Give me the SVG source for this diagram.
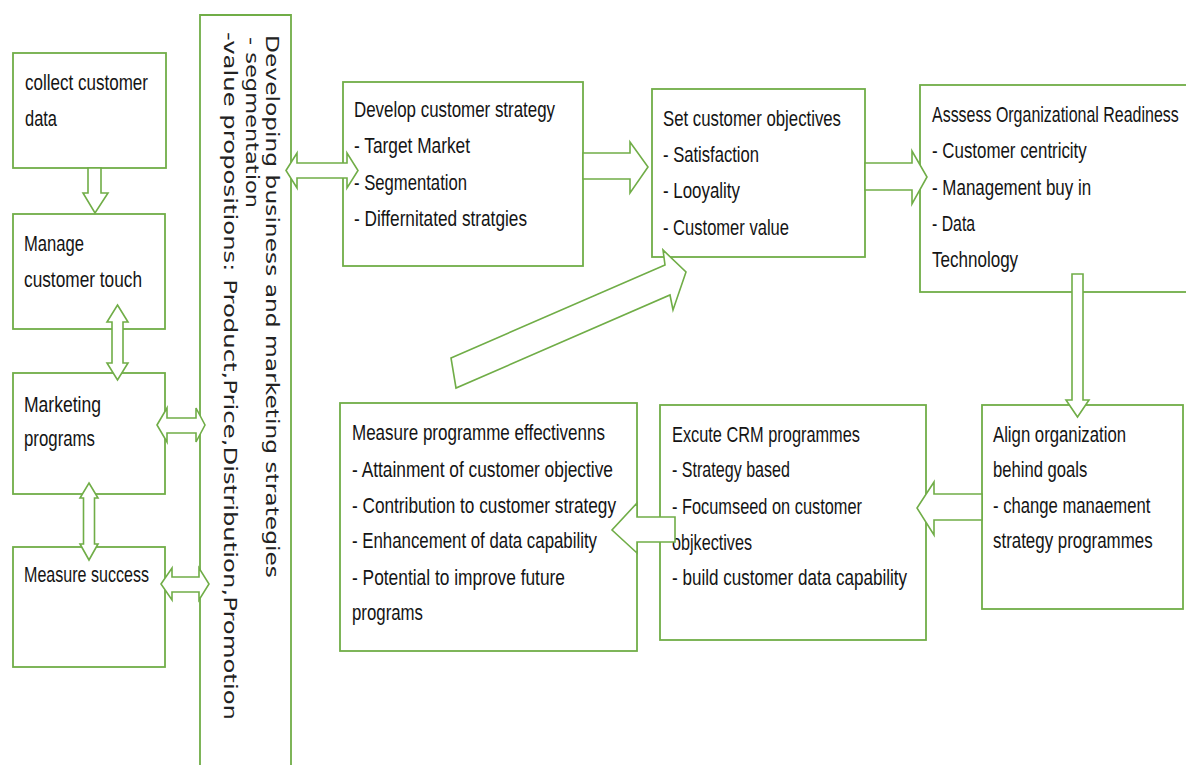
<svg xmlns="http://www.w3.org/2000/svg" width="1186" height="765" viewBox="0 0 1186 765">
<style>
.box{fill:#ffffff;stroke:#70ad47;stroke-width:1.8}
.arr{fill:#ffffff;stroke:#70ad47;stroke-width:1.6;stroke-linejoin:miter}
.t{font-family:"Liberation Sans",Arial,sans-serif;font-size:22px;fill:#141414}
.v{font-family:"DejaVu Sans",Verdana,sans-serif;font-size:17px;fill:#222222}
</style>
<rect x="0" y="0" width="1186" height="765" fill="#ffffff"/>
<g id="nodes">
<g id="collect">
<rect class="box" x="13" y="53" width="153" height="115"/>
<text class="t" x="25" y="90" textLength="123" lengthAdjust="spacingAndGlyphs">collect customer</text>
<text class="t" x="25" y="126" textLength="32" lengthAdjust="spacingAndGlyphs">data</text>
</g>
<g id="manage">
<rect class="box" x="13" y="214" width="152" height="115"/>
<text class="t" x="24" y="251" textLength="60" lengthAdjust="spacingAndGlyphs">Manage</text>
<text class="t" x="24" y="287" textLength="118" lengthAdjust="spacingAndGlyphs">customer touch</text>
</g>
<g id="marketing">
<rect class="box" x="13" y="373" width="152" height="121"/>
<text class="t" x="24" y="412" textLength="77" lengthAdjust="spacingAndGlyphs">Marketing</text>
<text class="t" x="24" y="446" textLength="71" lengthAdjust="spacingAndGlyphs">programs</text>
</g>
<g id="measure-success">
<rect class="box" x="13" y="547" width="152" height="120"/>
<text class="t" x="24" y="582" textLength="125" lengthAdjust="spacingAndGlyphs">Measure success</text>
</g>
<g id="strategies">
<path class="box" d="M200,766 V15 H291 V766"/>
<text class="v" transform="translate(266,35) rotate(90)" textLength="543" lengthAdjust="spacingAndGlyphs">Developing business and marketing strategies</text>
<text class="v" transform="translate(246,37) rotate(90)" textLength="171" lengthAdjust="spacingAndGlyphs">- segmentation</text>
<text class="v" transform="translate(224,32) rotate(90)" textLength="688" lengthAdjust="spacingAndGlyphs">-value propositions: Product,Price,Distribution,Promotion</text>
</g>
<g id="develop">
<rect class="box" x="343" y="82" width="240" height="184"/>
<text class="t" x="354" y="117" textLength="201" lengthAdjust="spacingAndGlyphs">Develop customer strategy</text>
<text class="t" x="354" y="153" textLength="116" lengthAdjust="spacingAndGlyphs">- Target Market</text>
<text class="t" x="354" y="190" textLength="113" lengthAdjust="spacingAndGlyphs">- Segmentation</text>
<text class="t" x="354" y="226" textLength="173" lengthAdjust="spacingAndGlyphs">- Differnitated stratgies</text>
</g>
<g id="objectives">
<rect class="box" x="652" y="89" width="213" height="168"/>
<text class="t" x="663" y="126" textLength="178" lengthAdjust="spacingAndGlyphs">Set customer objectives</text>
<text class="t" x="663" y="162" textLength="96" lengthAdjust="spacingAndGlyphs">- Satisfaction</text>
<text class="t" x="663" y="198" textLength="77" lengthAdjust="spacingAndGlyphs">- Looyality</text>
<text class="t" x="663" y="235" textLength="126" lengthAdjust="spacingAndGlyphs">- Customer value</text>
</g>
<g id="assess">
<rect class="box" x="920" y="85" width="280" height="207"/>
<g transform="translate(932,0) scale(0.73,1)">
<text class="t" x="0" y="122" textLength="338" lengthAdjust="spacingAndGlyphs">Asssess Organizational Readiness</text>
<text class="t" x="0" y="158" textLength="212" lengthAdjust="spacingAndGlyphs">- Customer centricity</text>
<text class="t" x="0" y="195" textLength="218" lengthAdjust="spacingAndGlyphs">- Management buy in</text>
<text class="t" x="0" y="231" textLength="59" lengthAdjust="spacingAndGlyphs">- Data</text>
<text class="t" x="0" y="267" textLength="118" lengthAdjust="spacingAndGlyphs">Technology</text>
</g>
</g>
<g id="align">
<rect class="box" x="982" y="405" width="201" height="204"/>
<g transform="translate(993,0) scale(0.76,1)">
<text class="t" x="0" y="442" textLength="175" lengthAdjust="spacingAndGlyphs">Align organization</text>
<text class="t" x="0" y="477" textLength="124" lengthAdjust="spacingAndGlyphs">behind goals</text>
<text class="t" x="0" y="513" textLength="207" lengthAdjust="spacingAndGlyphs">- change manaement</text>
<text class="t" x="0" y="548" textLength="210" lengthAdjust="spacingAndGlyphs">strategy programmes</text>
</g>
</g>
<g id="execute">
<rect class="box" x="660" y="405" width="266" height="235"/>
<text class="t" x="672" y="442" textLength="188" lengthAdjust="spacingAndGlyphs">Excute CRM programmes</text>
<text class="t" x="672" y="477" textLength="118" lengthAdjust="spacingAndGlyphs">- Strategy based</text>
<text class="t" x="672" y="514" textLength="190" lengthAdjust="spacingAndGlyphs">- Focumseed on customer</text>
<text class="t" x="672" y="550" textLength="80" lengthAdjust="spacingAndGlyphs">objkectives</text>
<text class="t" x="672" y="585" textLength="235" lengthAdjust="spacingAndGlyphs">- build customer data capability</text>
</g>
<g id="measure-programme">
<rect class="box" x="340" y="403" width="297" height="248"/>
<text class="t" x="352" y="440" textLength="253" lengthAdjust="spacingAndGlyphs">Measure programme effectivenns</text>
<text class="t" x="352" y="477" textLength="261" lengthAdjust="spacingAndGlyphs">- Attainment of customer objective</text>
<text class="t" x="352" y="513" textLength="264" lengthAdjust="spacingAndGlyphs">- Contribution to customer strategy</text>
<text class="t" x="352" y="548" textLength="245" lengthAdjust="spacingAndGlyphs">- Enhancement of data capability</text>
<text class="t" x="352" y="585" textLength="213" lengthAdjust="spacingAndGlyphs">- Potential to improve future</text>
<text class="t" x="352" y="620" textLength="71" lengthAdjust="spacingAndGlyphs">programs</text>
</g>
</g>
<g id="connectors">
<polygon class="arr" points="88,168 101,168 101,193 108,193 95,213 83,193 88,193"/>
<polygon class="arr" points="117.5,305 128,322 123,322 123,363 128,363 117.5,380 107,363 112,363 112,322 107,322"/>
<polygon class="arr" points="89,483 98,498 94.5,498 94.5,544 98,544 89,560 80,544 83.5,544 83.5,498 80,498"/>
<polygon class="arr" points="157,425 167,408 167,418 196,418 196,408 205,425 196,442 196,433 167,433 167,442"/>
<polygon class="arr" points="161,584 172,568 172,577 199,577 199,568 209,584 199,600 199,592 172,592 172,600"/>
<polygon class="arr" points="286,170.5 297,153 297,163 347,163 347,153 358,170.5 347,188 347,178 297,178 297,188"/>
<polygon class="arr" points="583,153 630,153 630,142 648,167 630,193 630,179 583,179"/>
<polygon class="arr" points="865,163 912,163 912,151 927,177 912,204 912,190 865,190"/>
<polygon class="arr" points="1072,274 1083,274 1083,400 1089,400 1077.5,417 1066,400 1072,400"/>
<polygon class="arr" points="982,494 934,494 934,482 917,508 934,535 934,520 982,520"/>
<polygon class="arr" points="675,517 637,517 637,503 612,530 637,553 637,542 675,542"/>
<polygon class="arr" points="451,358 665,265 663,250 686,272 673,310 670,295 456,388"/>
</g>
</svg>
